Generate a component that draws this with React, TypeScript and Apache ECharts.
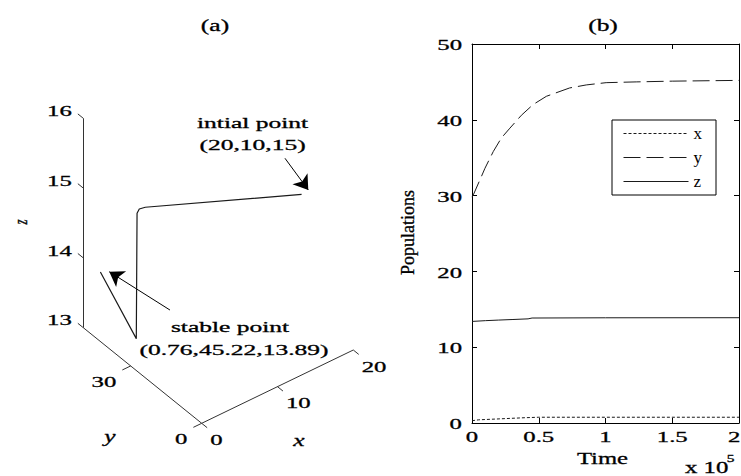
import React, { useEffect, useRef } from "react";
import * as echarts from "echarts";

// ---------- Panel (b): populations vs time (time in units of 10^5) ----------
const seriesNames = ["x", "y", "z"];
const timeOfX = [0, 0.05, 0.15, 0.25, 0.4, 0.5, 1.0, 2.0];
const popX = [0.3, 0.42, 0.5, 0.58, 0.7, 0.76, 0.76, 0.76];
const timeOfY = [0, 0.01, 0.06, 0.097, 0.159, 0.22, 0.284, 0.37, 0.457, 0.557, 0.731, 0.856, 1.005, 1.23, 1.5, 2.0];
const popY = [29.8, 30.1, 32.1, 33.6, 35.8, 37.6, 38.9, 40.6, 42.0, 43.1, 44.2, 44.6, 44.9, 45.0, 45.1, 45.2];
const timeOfZ = [0, 0.1, 0.2, 0.3, 0.42, 0.45, 1.0, 2.0];
const popZ = [13.4, 13.5, 13.58, 13.65, 13.74, 13.85, 13.88, 13.89];
const timeTicks = [0, 0.5, 1, 1.5, 2];
const timeTickLabels = ["0", "0.5", "1", "1.5", "2"];
const popTicks = [0, 10, 20, 30, 40, 50];
const popTickLabels = ["0", "10", "20", "30", "40", "50"];

// ---------- Panel (a): 3-D trajectory (x, y, z) ----------
const trajX = [16.3, 1.8, 1.2, 1.0, 0.9, 0.76];
const trajY = [10, 29.6, 30.2, 30.5, 30.5, 45.22];
const trajZ = [15.15, 15.19, 15.18, 15.12, 13.33, 13.89];
const xLim3 = [0, 20];
const yLim3 = [0, 50];
const zLim3 = [13, 16];
const xTicks3 = [0, 10, 20];
const yTicks3 = [0, 30];
const zTicks3 = [13, 14, 15, 16];
const initialText = ["intial point", "(20,10,15)"];
const stableText = ["stable point", "(0.76,45.22,13.89)"];

// ---------- layout / style constants ----------
const SERIF = "'Liberation Serif', 'Times New Roman', serif";
const INK = "#000";
const ORIGIN = [201.7, 423.3];
const EX = [7.58, -3.665];
const EY = [-2.368, -1.912];
const EZ = -69.8;
const Z_TICK = 2.3; // in y units
const Y_TICK = 1.1; // in x units
const X_TICK = 2.3; // in y units
const STRETCH = 1.65;

const project = (x: number, y: number, z: number): number[] => [
  ORIGIN[0] + x * EX[0] + y * EY[0],
  ORIGIN[1] + x * EX[1] + y * EY[1] + (z - zLim3[0]) * EZ,
];

const zip = (a: number[], b: number[]) => a.map((v, i) => [v, b[i]]);

export default function App() {
  const ref = useRef<HTMLDivElement>(null);

  useEffect(() => {
    document.body.style.margin = "0";
    const chart = echarts.init(ref.current!, null, { renderer: "svg" });

    // 3-D axes and ticks as segments
    const segs: number[][][] = [];
    const [x0, x1] = xLim3;
    const [y0, y1] = yLim3;
    const [z0, z1] = zLim3;
    segs.push([project(x0, y1, z0), project(x0, y1, z1)]);
    segs.push([project(x0, y1, z0), project(x0, y0, z0)]);
    segs.push([project(x0, y0, z0), project(x1, y0, z0)]);
    zTicks3.forEach((z) => segs.push([project(x0, y1, z), project(x0, y1 + Z_TICK, z)]));
    yTicks3.forEach((y) => segs.push([project(x0, y, z0), project(x0 - Y_TICK, y, z0)]));
    xTicks3.forEach((x) => segs.push([project(x, y0, z0), project(x, y0 - X_TICK, z0)]));

    const traj = trajX.map((x, i) => project(x, trajY[i], trajZ[i]));
    const startPt = traj[0];
    const endPt = traj[traj.length - 1];
    const add = (p: number[], d: number[]) => [p[0] + d[0], p[1] + d[1]];
    const arrows = [
      [add(startPt, [-16.6, -36.1]), add(startPt, [6.7, -4.4])],
      [add(endPt, [69.6, 38.1]), add(endPt, [8.9, -0.2])],
    ];

    const lineOf = (name: string, xs: number[], ys: number[], type: any) => ({
      name,
      type: "line",
      xAxisIndex: 1,
      yAxisIndex: 1,
      data: zip(xs, ys),
      symbol: "none",
      showSymbol: false,
      lineStyle: { color: "#1a1a1a", width: 1, type },
      itemStyle: { color: "#1a1a1a" },
    });

    const axisCommon = {
      type: "value",
      gridIndex: 1,
      axisLine: { show: true, onZero: false, lineStyle: { color: "#000", width: 1 } },
      axisTick: { show: true, inside: true, length: 5, lineStyle: { color: "#000" } },
      axisLabel: { show: false },
      splitLine: { show: false },
    };

    const option: any = {
      animation: false,
      backgroundColor: "#fff",
      grid: [
        { left: 0, top: 0, width: 741, height: 476, show: false },
        { left: 472, top: 44, width: 267, height: 379, show: false },
      ],
      xAxis: [
        { type: "value", gridIndex: 0, min: 0, max: 741, show: false },
        { ...axisCommon, min: 0, max: 2, interval: 0.5, position: "bottom" },
        { ...axisCommon, min: 0, max: 2, interval: 0.5, position: "top" },
      ],
      yAxis: [
        { type: "value", gridIndex: 0, min: 0, max: 476, inverse: true, show: false },
        { ...axisCommon, min: 0, max: 50, interval: 10, position: "left" },
        { ...axisCommon, min: 0, max: 50, interval: 10, position: "right" },
      ],
      legend: {
        data: seriesNames,
        orient: "vertical",
        left: 612,
        top: 120,
        itemWidth: 65,
        itemHeight: 17,
        itemGap: 7,
        padding: [5, 14, 5, 11],
        borderColor: "#000",
        borderWidth: 1,
        backgroundColor: "#fff",
        selectedMode: false,
        itemStyle: { opacity: 0 },
        lineStyle: { width: 1 },
        textStyle: { fontFamily: SERIF, fontSize: 17, color: INK },
      },
      series: [
        {
          type: "lines",
          coordinateSystem: "cartesian2d",
          xAxisIndex: 0,
          yAxisIndex: 0,
          silent: true,
          data: segs.map((c) => ({ coords: c })),
          lineStyle: { color: "#333", width: 1, opacity: 1, curveness: 0 },
        },
        {
          type: "line",
          xAxisIndex: 0,
          yAxisIndex: 0,
          silent: true,
          data: traj,
          symbol: "none",
          clip: false,
          lineStyle: { color: "#1a1a1a", width: 1.2 },
        },
        {
          type: "lines",
          coordinateSystem: "cartesian2d",
          xAxisIndex: 0,
          yAxisIndex: 0,
          silent: true,
          symbol: ["none", "arrow"],
          symbolSize: 14,
          data: arrows.map((c) => ({ coords: c })),
          lineStyle: { color: "#000", width: 1, opacity: 1, curveness: 0 },
        },
        lineOf("x", timeOfX, popX, [3, 2]),
        lineOf("y", timeOfY, popY, [17, 6]),
        lineOf("z", timeOfZ, popZ, "solid"),
      ],
    };

    chart.setOption(option);

    const txt = (text: string, x: number, y: number, o: any = {}) => ({
      type: "text",
      x,
      y,
      scaleX: o.scaleX ?? STRETCH,
      scaleY: o.scaleY ?? 1,
      rotation: o.rotation ?? 0,
      silent: true,
      z: 10,
      style: {
        text,
        fontSize: o.size ?? 15,
        fontFamily: SERIF,
        fontStyle: o.italic ? "italic" : "normal",
        fill: INK,
        stroke: INK,
        lineWidth: 0.3,
        align: o.align ?? "center",
        verticalAlign: o.valign ?? "middle",
        textAlign: o.align ?? "center",
        textVerticalAlign: o.valign ?? "middle",
      },
    });

    const pxA = (p: number[]) => chart.convertToPixel({ gridIndex: 0 }, p) as number[];
    const pxB = (p: number[]) => chart.convertToPixel({ gridIndex: 1 }, p) as number[];

    const g: any[] = [];
    // titles
    g.push(txt("(a)", 215, 25.5, { size: 17, scaleX: 1.5 }));
    const bTop = pxB([1, 50]);
    g.push(txt("(b)", bTop[0] - 2.5, 25.5, { size: 17, scaleX: 1.5 }));

    // panel (a) tick labels
    zTicks3.forEach((z) => {
      const p = pxA(project(x0, y1 + Z_TICK, z));
      g.push(txt(String(z), p[0] - 6, p[1] - 3, { align: "right" }));
    });
    yTicks3.forEach((y) => {
      const p = pxA(project(x0 - Y_TICK, y, z0));
      g.push(txt(String(y), p[0] - 6, p[1] + 11.5, { align: "right" }));
    });
    xTicks3.forEach((x) => {
      const p = pxA(project(x, y0 - X_TICK, z0));
      g.push(txt(String(x), p[0] + 3, p[1] + 12, { align: "left" }));
    });
    // axis names
    const xm = pxA(project((x0 + x1) / 2, y0, z0));
    g.push(txt("x", xm[0] + 21.5, xm[1] + 53.4, { size: 17, italic: true, scaleX: 1.5 }));
    const ym = pxA(project(x0, (y0 + y1) / 2, z0));
    g.push(txt("y", ym[0] - 32.5, ym[1] + 61.5, { size: 17, italic: true, scaleX: 1.5 }));
    const zm = pxA(project(x0, y1, (z0 + z1) / 2));
    g.push(txt("z", zm[0] - 63, zm[1] - 1, { size: 13, italic: true, scaleX: 1, scaleY: 1.4, rotation: Math.PI / 2 }));

    // annotations
    const sp = pxA(startPt);
    g.push(txt(initialText[0], sp[0] - 49, sp[1] - 71, { scaleX: 1.7 }));
    g.push(txt(initialText[1], sp[0] - 49, sp[1] - 49.4, { scaleX: 1.7 }));
    const ep = pxA(endPt);
    g.push(txt(stableText[0], ep[0] + 129.6, ep[1] + 55.1, { scaleX: 1.7 }));
    g.push(txt(stableText[1], ep[0] + 133.6, ep[1] + 77.6, { scaleX: 1.7 }));

    // panel (b) tick labels
    timeTicks.forEach((t, i) => {
      const p = pxB([t, 0]);
      const last = i === timeTicks.length - 1;
      g.push(txt(timeTickLabels[i], last ? p[0] + 1.5 : p[0], p[1] + 13.7, last ? { align: "right" } : {}));
    });
    popTicks.forEach((v, i) => {
      const p = pxB([0, v]);
      g.push(txt(popTickLabels[i], p[0] - 10, p[1] + 1, { align: "right" }));
    });
    // panel (b) axis names
    const bMid = pxB([1, 0]);
    g.push(txt("Time", bMid[0] - 3, bMid[1] + 35, { size: 17, scaleX: 1.45 }));
    g.push(txt("x 10", 685, 468, { size: 16, scaleX: 1.55, align: "left" }));
    g.push(txt("5", 730.5, 458, { size: 11, scaleX: 1.4 }));
    const yMid = pxB([0, 25]);
    g.push(txt("Populations", yMid[0] - 64, yMid[1] - 1, { size: 18, scaleX: 1, rotation: Math.PI / 2 }));

    chart.setOption({ graphic: g });

    return () => chart.dispose();
  }, []);

  return <div ref={ref} style={{ width: 741, height: 476 }} />;
}
